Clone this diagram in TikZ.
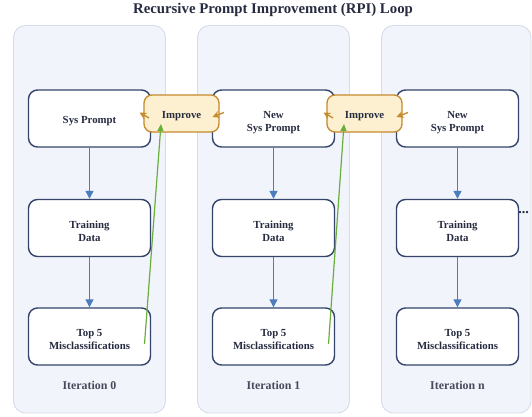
\documentclass[tikz,border=0pt]{standalone}
\usepackage{fontspec}
\setmainfont{Liberation Serif}
\usetikzlibrary{arrows.meta}
\definecolor{panelfill}{HTML}{F1F4FA}
\definecolor{panelline}{HTML}{D6DDEA}
\definecolor{boxline}{HTML}{34446A}
\definecolor{textdark}{HTML}{262B40}
\definecolor{impfill}{HTML}{FCF0D0}
\definecolor{impline}{HTML}{C58A2C}
\definecolor{flowblue}{HTML}{4A7DBE}
\definecolor{feedgreen}{HTML}{6AAE3C}
\tikzset{
  panel/.style={fill=panelfill, draw=panelline, line width=0.9pt, rounded corners=12pt},
  stepbox/.style={draw=boxline, fill=white, line width=1.4pt, rounded corners=9pt,
    minimum width=122pt, minimum height=57pt, inner sep=0pt},
  boxtext/.style={font=\bfseries\fontsize{10.8}{13}\selectfont, text=textdark, align=center},
  impbox/.style={draw=impline, fill=impfill, line width=1.3pt, rounded corners=8pt,
    minimum width=75pt, minimum height=37pt, inner sep=0pt},
  itlabel/.style={font=\bfseries\fontsize{11.9}{14}\selectfont, text=textdark!85},
  flow/.style={draw=flowblue, line width=1.3pt, -{Triangle[width=8pt,length=8pt]}},
  feed/.style={draw=feedgreen, line width=1.2pt, -{Triangle[width=6pt,length=7pt]}},
  back/.style={draw=impline, line width=1.3pt, -{Stealth[width=7pt,length=7pt]}},
}
\begin{document}
\begin{tikzpicture}[x=1pt, y=-1pt]
  \useasboundingbox (0,0) rectangle (532,417);
  \node[font=\bfseries\fontsize{14.8}{16}\selectfont, text=textdark] (title) at (273,10) {Recursive Prompt Improvement (RPI) Loop};

  % iteration panels
  \draw[panel] (13.5,25.5) rectangle (165.5,413);
  \draw[panel] (197.5,25.5) rectangle (349.5,413);
  \draw[panel] (381.5,25.5) rectangle (531,413);

  % iteration 0
  \node[stepbox] (sp0) at (89.5,118.5) {};
  \node[boxtext] at (89.5,121.5) {Sys Prompt};
  \node[stepbox] (td0) at (89.5,228) {};
  \node[boxtext] at (89.5,231.5) {Training\\Data};
  \node[stepbox] (mc0) at (89.5,336.5) {};
  \node[boxtext] at (89.5,340) {Top 5\\Misclassifications};
  \node[itlabel] (it0) at (89.5,385) {Iteration 0};

  % iteration 1
  \node[stepbox] (sp1) at (273.5,118.5) {};
  \node[boxtext] at (273.5,122.5) {New\\Sys Prompt};
  \node[stepbox] (td1) at (273.5,228) {};
  \node[boxtext] at (273.5,231.5) {Training\\Data};
  \node[stepbox] (mc1) at (273.5,336.5) {};
  \node[boxtext] at (273.5,340) {Top 5\\Misclassifications};
  \node[itlabel] (it1) at (273.5,385) {Iteration 1};

  % iteration n
  \node[stepbox] (sp2) at (457.5,118.5) {};
  \node[boxtext] at (457.5,122.5) {New\\Sys Prompt};
  \node[stepbox] (td2) at (457.5,228) {};
  \node[boxtext] at (457.5,231.5) {Training\\Data};
  \node[stepbox] (mc2) at (457.5,336.5) {};
  \node[boxtext] at (457.5,340) {Top 5\\Misclassifications};
  \node[itlabel] (it2) at (457.5,385) {Iteration n};
  \node[font=\bfseries\fontsize{14}{14}\selectfont, text=textdark] (more) at (523.5,213) {...};

  % downward flow in each iteration
  \foreach \i in {0,1,2} {
    \draw[flow] (sp\i.south) -- (td\i.north);
    \draw[flow] (td\i.south) -- (mc\i.north);
  }

  % improvement steps between iterations
  \node[impbox] (imp0) at (181.5,113.5) {};
  \node[boxtext] at (181.5,116.5) {Improve};
  \node[impbox] (imp1) at (364.5,113.5) {};
  \node[boxtext] at (364.5,116.5) {Improve};

  % feedback from misclassifications into the improvement step
  \coordinate (g0a) at (144.5,344);
  \coordinate (g0b) at (161,124);
  \coordinate (g1a) at (328.5,344);
  \coordinate (g1b) at (344,124);
  \draw[feed] (g0a) -- (g0b);
  \draw[feed] (g1a) -- (g1b);

  % short hand-over arrows pointing back to the prompts
  \coordinate (b0a) at (149,118);
  \coordinate (b0b) at (139.5,112.5);
  \coordinate (b1a) at (224,112.5);
  \coordinate (b1b) at (212.5,117);
  \coordinate (b2a) at (333,118);
  \coordinate (b2b) at (323.5,112.5);
  \coordinate (b3a) at (408,112.5);
  \coordinate (b3b) at (396.5,117);
  \draw[back] (b0a) -- (b0b);
  \draw[back] (b1a) -- (b1b);
  \draw[back] (b2a) -- (b2b);
  \draw[back] (b3a) -- (b3b);
\end{tikzpicture}
\end{document}
